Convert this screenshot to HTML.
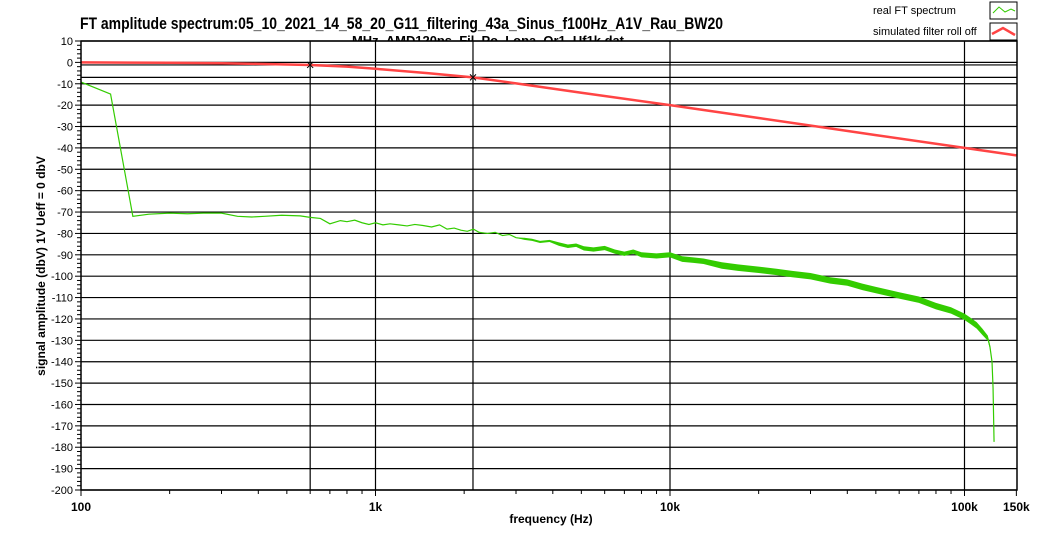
<!DOCTYPE html>
<html><head><meta charset="utf-8"><style>
html,body{margin:0;padding:0;background:#fff;}
svg{display:block;font-family:"Liberation Sans",sans-serif;}
</style></head><body>
<svg id="chart" width="1041" height="534" viewBox="0 0 1041 534" xmlns="http://www.w3.org/2000/svg">
<defs><clipPath id="clip"><rect x="81" y="41" width="936" height="449"/></clipPath></defs>
<text x="80" y="29" font-size="17" font-weight="bold" textLength="643" lengthAdjust="spacingAndGlyphs">FT amplitude spectrum:05_10_2021_14_58_20_G11_filtering_43a_Sinus_f100Hz_A1V_Rau_BW20</text>
<text x="352" y="45" font-size="13" font-weight="bold" textLength="272" lengthAdjust="spacingAndGlyphs">MHz_AMD120ps_Fil_Po_Lopa_Or1_Uf1k.dat</text>
<rect x="81" y="41" width="936" height="449" fill="#fff"/>
<g id="grid"></g>
<g id="series" clip-path="url(#clip)"></g>
<g id="axes"></g>
<text transform="translate(45,266) rotate(-90)" text-anchor="middle" font-size="12" font-weight="bold">signal amplitude (dbV)   1V Ueff = 0 dbV</text>
<text x="551" y="523" text-anchor="middle" font-size="12" font-weight="bold">frequency (Hz)</text>
<g>
<text x="873" y="14" font-size="11">real FT spectrum</text>
<rect x="990" y="2" width="27" height="17" fill="#fff" stroke="#000" stroke-width="1"/>
<polyline points="993,13 999,7 1005,12 1011,9 1015,11" fill="none" stroke="#33cc00" stroke-width="1"/>
<text x="873" y="35" font-size="11">simulated filter roll off</text>
<rect x="990" y="23" width="27" height="17" fill="#fff" stroke="#000" stroke-width="1"/>
<polyline points="992,34 1003,28 1015,35" fill="none" stroke="#ff4444" stroke-width="2.5"/>
</g>
</svg>
<script>
const yTicks=[10,0,-10,-20,-30,-40,-50,-60,-70,-80,-90,-100,-110,-120,-130,-140,-150,-160,-170,-180,-190,-200];
const xTickVals=[100,1000,10000,100000,150000];
const xTickLabels=["100","1k","10k","100k","150k"];
const markerFreqs=[600,2143];
const markerDb=[-1.2,-7.0];
const redFreq=[100,200,300,400,600,800,1000,1500,2143,3000,5000,10000,20000,50000,100000,150000];
const redDb=[0,-0.2,-0.4,-0.7,-1.2,-2.0,-3.0,-5.0,-7.0,-9.8,-14.2,-20.0,-26.0,-34.0,-40.0,-43.5];
const greenFreq=[100,126,150,170,200,230,260,300,340,380,420,480,555,600,650,700,760,800,850,900,950,1000,1060,1120,1200,1280,1360,1450,1550,1650,1750,1850,1950,2050,2150,2250,2400,2550,2700,2850,3000,3200,3400,3620,3900,4200,4500,4800,5100,5500,6000,6500,7000,7500,8000,9000,10000,11000,12000,13000,15000,17000,20000,23000,26000,30000,35000,40000,45000,50000,60000,70000,80000,90000,100000,105000,110000,115000,120000,122000,124000,125000,126000];
const greenDb=[-9.2,-14.8,-72,-71,-70.5,-70.8,-70.5,-70.5,-72,-72.3,-72,-71.5,-71.8,-72.5,-73,-75.5,-74,-74.5,-73.8,-75,-75.8,-75,-76,-75.5,-76,-76.5,-75.8,-76.3,-77,-76,-78,-77.5,-78.5,-79,-78,-79.5,-80,-79.5,-81,-80.5,-82,-82.5,-83,-84,-83.5,-85,-86,-85.5,-87,-87.5,-86.8,-88.5,-89.5,-88.5,-90,-90.5,-90,-92,-92.5,-93,-95,-96,-97,-98,-99,-100,-102,-103,-105,-106.5,-109,-111,-114,-116,-119,-121,-123,-126,-129,-133,-140,-152,-177.5];
const greenBand=[0,0,0,0,0,0,0,0,0,0,0,0,0,0,0,0,0,0,0,0,0,0,0,0,0,0,0,0,0,0,0,0,0,0,0,0,0,0,0,0,0,0.5,0.5,0.5,0.5,0.8,0.8,0.8,1,1,1,1,1,1,1.2,1.2,1.2,1.3,1.3,1.3,1.5,1.5,1.5,1.5,1.5,1.5,1.5,1.5,1.5,1.5,1.5,1.5,1.5,1.5,1.5,1.5,1.5,1.5,1.2,1,0.5,0,0];
const NS="http://www.w3.org/2000/svg";
const X0=81,X1=1017,Y0=41,Y1=490;
function xs(f){return X0+(Math.log10(f)-2)*294.5;}
function ys(d){return Y0+(10-d)*(Y1-Y0)/210;}
function mk(t,a,p){const e=document.createElementNS(NS,t);for(const k in a)e.setAttribute(k,a[k]);p.appendChild(e);return e;}
const grid=document.getElementById('grid'),axes=document.getElementById('axes'),ser=document.getElementById('series');
yTicks.forEach(v=>{const y=ys(v);
 const l=mk('line',{x1:X0,x2:X1,y1:y,y2:y,stroke:'#000','stroke-width':1.2},grid);
 
 
 const t=mk('text',{x:73,y:y+4,'text-anchor':'end','font-size':11},axes);t.textContent=v;
 
 
 mk('line',{x1:75,x2:X0,y1:y,y2:y,stroke:'#000'},axes);
});
for(let v=8;v>-200;v-=2){if(v%10===0)continue;const y=ys(v);mk('line',{x1:77,x2:X0,y1:y,y2:y,stroke:'#000'},axes);}
markerDb.forEach(v=>{const y=ys(v);const l=mk('line',{x1:X0,x2:X1,y1:y,y2:y,stroke:'#000','stroke-width':1.2},grid);
 
 });
markerFreqs.concat([1000,10000,100000]).forEach(f=>{const x=xs(f);const l=mk('line',{x1:x,x2:x,y1:Y0,y2:Y1,stroke:'#000','stroke-width':1.2},grid);
 
 });
for(let d=100;d<150000;d*=10){for(let m=2;m<10;m++){const f=d*m;if(f>150000)break;const x=xs(f);mk('line',{x1:x,x2:x,y1:Y1,y2:Y1+4,stroke:'#000'},axes);}}
xTickVals.forEach((f,i)=>{const x=xs(f);mk('line',{x1:x,x2:x,y1:Y1,y2:Y1+6,stroke:'#000'},axes);
 const t=mk('text',{x:x,y:511,'text-anchor':'middle','font-size':12,'font-weight':'bold'},axes);t.textContent=xTickLabels[i];
 
 });
mk('rect',{x:X0,y:Y0,width:X1-X0,height:Y1-Y0,fill:'none',stroke:'#000','stroke-width':1.5},axes);
let up=[],lo=[];greenFreq.forEach((f,i)=>{up.push(xs(f)+','+ys(greenDb[i]+greenBand[i]));lo.unshift(xs(f)+','+ys(greenDb[i]-greenBand[i]));});
const band=mk('polygon',{points:up.concat(lo).join(' '),fill:'#33cc00',stroke:'none'},ser);


const g=mk('polyline',{points:greenFreq.map((f,i)=>xs(f)+','+ys(greenDb[i])).join(' '),fill:'none',stroke:'#33cc00','stroke-width':1.2},ser);


const r=mk('polyline',{points:redFreq.map((f,i)=>xs(f)+','+ys(redDb[i])).join(' '),fill:'none',stroke:'#ff4444','stroke-width':2.5},ser);


markerFreqs.forEach((f,i)=>{const x=xs(f),y=ys(markerDb[i]);
 const p=mk('path',{d:`M${x-3},${y-3}L${x+3},${y+3}M${x-3},${y+3}L${x+3},${y-3}`,stroke:'#000','stroke-width':1},ser);
 
 });
</script>
</body></html>
